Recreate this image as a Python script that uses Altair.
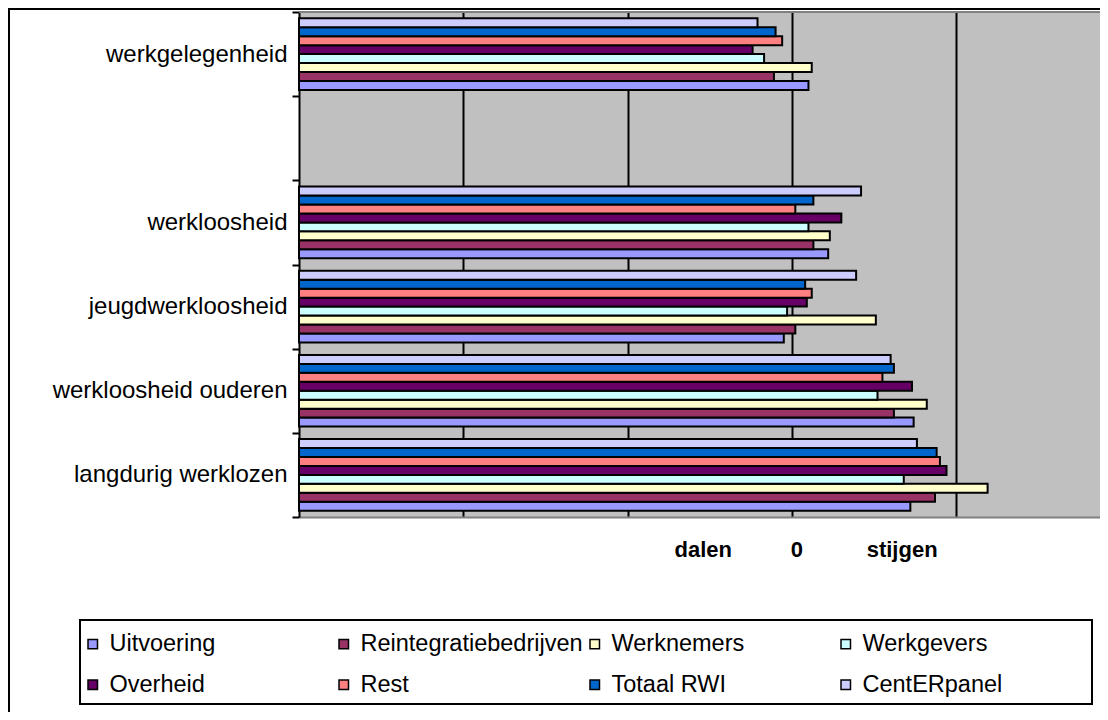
import altair as alt
import pandas as pd

categories = ["werkgelegenheid", " ", "werkloosheid", "jeugdwerkloosheid",
              "werkloosheid ouderen", "langdurig werklozen"]
series = ["Uitvoering", "Reintegratiebedrijven", "Werknemers", "Werkgevers",
          "Overheid", "Rest", "Totaal RWI", "CentERpanel"]
colors = ["#9999FF", "#993366", "#FFFFCC", "#CCFFFF",
          "#660066", "#FF8080", "#0066CC", "#CCCCFF"]

# values per category, in series order
werkgelegenheid = [0.10, -0.11, 0.12, -0.17, -0.24, -0.06, -0.10, -0.21]
werkloosheid = [0.22, 0.13, 0.23, 0.10, 0.30, 0.02, 0.13, 0.42]
jeugdwerkloosheid = [-0.05, 0.02, 0.51, -0.03, 0.09, 0.12, 0.08, 0.39]
werkloosheid_ouderen = [0.74, 0.62, 0.82, 0.52, 0.73, 0.55, 0.62, 0.60]
langdurig_werklozen = [0.72, 0.87, 1.19, 0.68, 0.94, 0.90, 0.88, 0.76]

axis_min = -3
axis_max = 1.874
grid_values = [-2, -1, 0, 1]
note_labels = ["dalen", "0", "stijgen"]
note_pos = [-0.54, 0.03, 0.67]

rows = []
for cat, vals in [("werkgelegenheid", werkgelegenheid),
                  ("werkloosheid", werkloosheid),
                  ("jeugdwerkloosheid", jeugdwerkloosheid),
                  ("werkloosheid ouderen", werkloosheid_ouderen),
                  ("langdurig werklozen", langdurig_werklozen)]:
    for s, v in zip(series, vals):
        rows.append({"category": cat, "series": s, "value": v})
df = pd.DataFrame(rows)

FONT = "Liberation Sans"
xscale = alt.Scale(domain=[axis_min, axis_max], nice=False, zero=False)


def x_axis():
    return alt.Axis(values=grid_values, labels=False, ticks=False, title=None,
                    grid=True, gridColor="black", gridWidth=2,
                    domainColor="#808080", domainWidth=2)


bars = alt.Chart(df).mark_bar(stroke="black", strokeWidth=2).encode(
    x=alt.X("value:Q", scale=xscale, axis=x_axis()),
    x2=alt.datum(axis_min),
    y=alt.Y("category:N",
            scale=alt.Scale(domain=categories, paddingInner=0, paddingOuter=0),
            axis=alt.Axis(title=None, tickBand="extent", tickColor="black", tickWidth=2,
                          tickSize=7, labelFont=FONT, labelFontSize=24, labelColor="black",
                          labelPadding=5, labelLimit=400, domainColor="black",
                          domainWidth=2, grid=False)),
    yOffset=alt.YOffset("series:N",
                        scale=alt.Scale(domain=series[::-1], paddingInner=0, paddingOuter=0.7)),
    color=alt.Color("series:N", scale=alt.Scale(domain=series, range=colors),
                    legend=alt.Legend(title=None, orient="none", legendX=-227, legendY=611,
                                      direction="horizontal", columns=4, gridAlign="all",
                                      columnPadding=0, rowPadding=16, symbolType="square",
                                      symbolSize=90, symbolStrokeColor="black",
                                      symbolStrokeWidth=1.5, symbolOpacity=1,
                                      labelFont=FONT, labelFontSize=23.5, labelColor="black",
                                      labelLimit=400, labelOffset=5, padding=9)),
)

one = pd.DataFrame({"k": [0]})
legend_box = alt.Chart(one).mark_rect(fill="white", stroke="black", strokeWidth=2).encode(
    x=alt.value(-219), x2=alt.value(793), y=alt.value(608), y2=alt.value(692))
top_frame = alt.Chart(one).mark_rule(color="black", strokeWidth=2).encode(
    x=alt.value(-291), x2=alt.value(801), y=alt.value(-3))
left_frame = alt.Chart(one).mark_rule(color="black", strokeWidth=2).encode(
    x=alt.value(-290), y=alt.value(-4), y2=alt.value(700))
plot_top = alt.Chart(one).mark_rule(color="#808080", strokeWidth=2).encode(
    x=alt.value(0), x2=alt.value(801), y=alt.value(0))

notes = alt.Chart(pd.DataFrame({"label": note_labels, "pos": note_pos})).mark_text(
    font=FONT, fontSize=22, fontWeight="bold", baseline="alphabetic", align="center",
    color="black").encode(
    x=alt.X("pos:Q", scale=xscale, axis=x_axis()),
    y=alt.value(545),
    text="label:N")

chart = alt.layer(bars, plot_top, top_frame, left_frame, legend_box, notes).properties(
    width=801, height=505,
    padding={"left": 291, "top": 4, "right": 0, "bottom": 195},
    autosize=alt.AutoSizeParams(type="none"),
    background="white",
).configure_view(stroke=None, fill="#C0C0C0")

chart.save("out.html", embed_options={"renderer": "svg", "actions": False})
